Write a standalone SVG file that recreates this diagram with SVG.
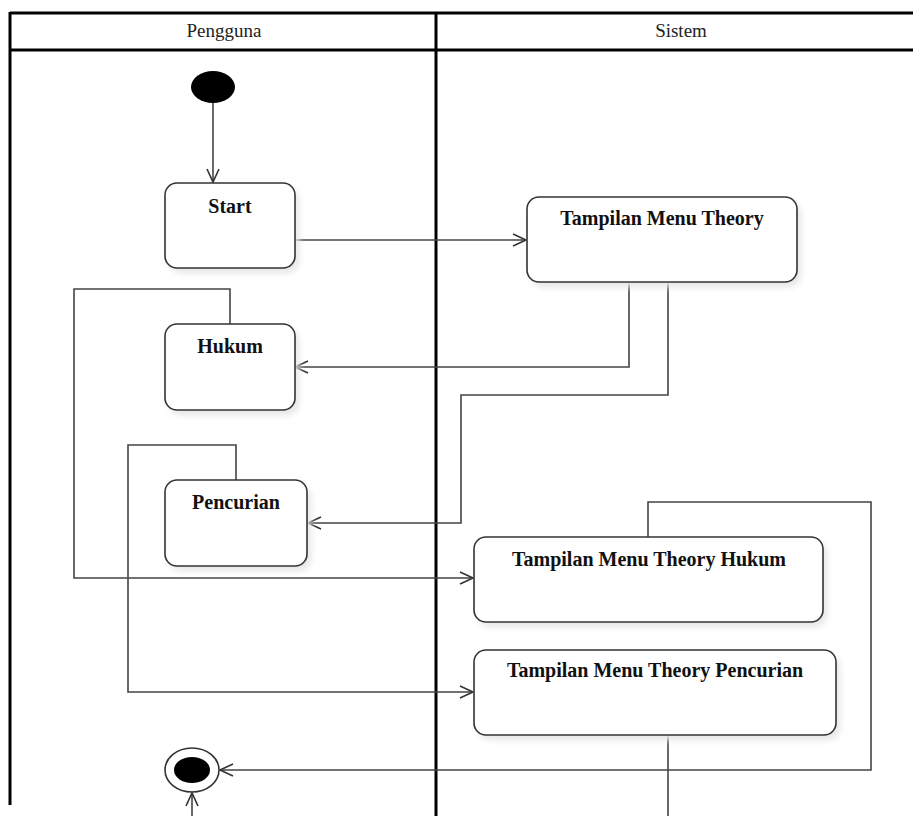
<svg xmlns="http://www.w3.org/2000/svg" width="913" height="816" viewBox="0 0 913 816">
<style>
.frame{stroke:#000;stroke-width:3;fill:none}
.box{fill:#fff;stroke:#333;stroke-width:1.6}
.shadow{fill:#e6e6e6;filter:url(#blur)}
.lbl{font-family:"Liberation Serif",serif;font-weight:bold;font-size:20px;fill:#111;text-anchor:middle}
.hdr{font-family:"Liberation Serif",serif;font-size:19px;fill:#222;text-anchor:middle}
.con{fill:none;stroke:#444;stroke-width:1.6}
</style>
<defs>
<filter id="blur" x="-10%" y="-10%" width="130%" height="140%"><feGaussianBlur stdDeviation="3"/></filter>
<marker id="arr" markerUnits="userSpaceOnUse" markerWidth="16" markerHeight="16" refX="14" refY="7" orient="auto">
<path d="M1,1 L14,7 L1,13" fill="none" stroke="#333" stroke-width="1.6"/>
</marker>
</defs>
<rect width="913" height="816" fill="#fff"/>
<g id="swimlanes">
<line class="frame" x1="10" y1="13" x2="913" y2="13"/>
<line class="frame" x1="10" y1="50" x2="913" y2="50"/>
<line class="frame" x1="10" y1="12" x2="10" y2="805"/>
<line class="frame" x1="436" y1="12" x2="436" y2="816"/>
<text class="hdr" x="224" y="37">Pengguna</text>
<text class="hdr" x="681" y="37">Sistem</text>
</g>
<g id="connectors">
<line class="con" x1="213" y1="103" x2="213" y2="182" marker-end="url(#arr)"/>
<line class="con" x1="295" y1="240" x2="526" y2="240" marker-end="url(#arr)"/>
<polyline class="con" points="629,282 629,367 295,367" marker-end="url(#arr)"/>
<polyline class="con" points="668,282 668,395 461,395 461,523 308,523" marker-end="url(#arr)"/>
<polyline class="con" points="230,324 230,289 74,289 74,578 473,578" marker-end="url(#arr)"/>
<polyline class="con" points="236,480 236,445 128,445 128,692 473,692" marker-end="url(#arr)"/>
<polyline class="con" points="648,537 648,502 871,502 871,770 220,770" marker-end="url(#arr)"/>
<line class="con" x1="668" y1="735" x2="668" y2="816"/>
<line class="con" x1="192" y1="816" x2="192" y2="793" marker-end="url(#arr)"/>
</g>
<g id="initial">
<ellipse cx="213" cy="87" rx="22" ry="16" fill="#000"/>
</g>
<g id="start">
<rect class="shadow" x="169" y="188" width="130" height="85" rx="12"/>
<rect class="box" x="165" y="183" width="130" height="85" rx="12"/>
<text class="lbl" x="230" y="213">Start</text>
</g>
<g id="tampilan-menu-theory">
<rect class="shadow" x="531" y="202" width="270" height="85" rx="12"/>
<rect class="box" x="527" y="197" width="270" height="85" rx="12"/>
<text class="lbl" x="662" y="225">Tampilan Menu Theory</text>
</g>
<g id="hukum">
<rect class="shadow" x="169" y="329" width="130" height="86" rx="12"/>
<rect class="box" x="165" y="324" width="130" height="86" rx="12"/>
<text class="lbl" x="230" y="353">Hukum</text>
</g>
<g id="pencurian">
<rect class="shadow" x="169" y="485" width="142" height="86" rx="12"/>
<rect class="box" x="165" y="480" width="142" height="86" rx="12"/>
<text class="lbl" x="236" y="509">Pencurian</text>
</g>
<g id="tampilan-menu-theory-hukum">
<rect class="shadow" x="478" y="542" width="349" height="85" rx="12"/>
<rect class="box" x="474" y="537" width="349" height="85" rx="12"/>
<text class="lbl" x="649" y="566">Tampilan Menu Theory Hukum</text>
</g>
<g id="tampilan-menu-theory-pencurian">
<rect class="shadow" x="478" y="655" width="362" height="85" rx="12"/>
<rect class="box" x="474" y="650" width="362" height="85" rx="12"/>
<text class="lbl" x="655" y="677">Tampilan Menu Theory Pencurian</text>
</g>
<g id="final">
<ellipse cx="192" cy="770" rx="27" ry="22" fill="#fff" stroke="#333" stroke-width="1.6"/>
<ellipse cx="192" cy="770" rx="18" ry="13" fill="#000"/>
</g>
</svg>
